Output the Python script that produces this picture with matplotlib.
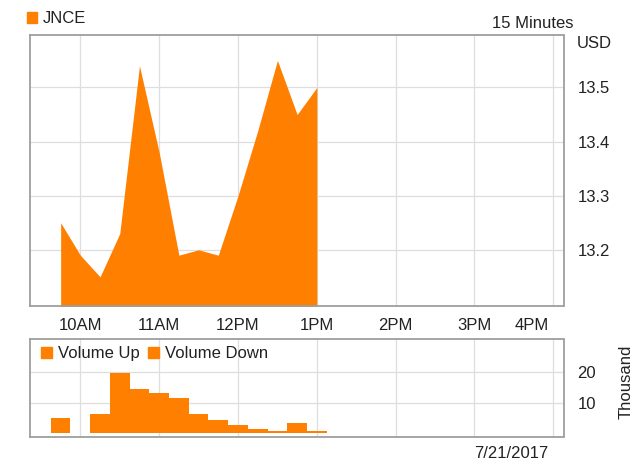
import matplotlib.pyplot as plt
from matplotlib.patches import Patch

plt.rcParams["font.family"] = ["Liberation Sans", "DejaVu Sans"]

# 15 minute bars, 7/21/2017
times = ["9:45", "10:00", "10:15", "10:30", "10:45", "11:00", "11:15",
         "11:30", "11:45", "12:00", "12:15", "12:30", "12:45", "13:00"]
price = [13.25, 13.19, 13.15, 13.23, 13.54, 13.38, 13.19,
         13.20, 13.19, 13.30, 13.42, 13.55, 13.45, 13.50]
volume = [4.9, 0.0, 6.2, 19.4, 14.4, 13.0, 11.4,
          6.2, 4.4, 2.6, 1.5, 0.8, 3.3, 0.9]  # thousand

hour_ticks = [10, 11, 12, 13, 14, 15, 16]
hour_labels = ["10AM", "11AM", "12PM", "1PM", "2PM", "3PM", "4PM"]
price_ticks = [13.2, 13.3, 13.4, 13.5]
volume_ticks = [10, 20]

orange = "#ff7f00"
grid_c = "#dedede"
frame_c = "#9e9e9e"
text_c = "#222222"
fs = 12


def to_hours(t):
    h, m = t.split(":")
    return int(h) + int(m) / 60


x = [to_hours(t) for t in times]

W, H = 639, 461
fig = plt.figure(figsize=(W / 100, H / 100), dpi=100)


def fig_box(left, top, right, bottom):
    return [left / W, 1 - bottom / H, (right - left) / W, (bottom - top) / H]


ax = fig.add_axes(fig_box(29.5, 35, 563.5, 305.5))
axv = fig.add_axes(fig_box(29.5, 338.5, 563.5, 437))

xlim = (9.355, 16.129)

# price area
ax.fill_between(x, price, 13.0, color=orange, linewidth=0, zorder=2)
ax.set_xlim(*xlim)
ax.set_ylim(13.097, 13.597)
ax.set_yticks(price_ticks)
ax.set_yticklabels([f"{v:.1f}" for v in price_ticks])
ax.yaxis.tick_right()

# gridlines on the hours; the 4PM label sits left of its line (minor tick)
ax.set_xticks(hour_ticks)
ax.set_xticklabels(hour_labels[:-1] + [""])
ax.set_xticks([15.73], minor=True)
ax.set_xticklabels(hour_labels[-1:], minor=True)
ax.tick_params(axis="x", which="both", length=0, pad=9, labelsize=fs, labelcolor=text_c)
ax.tick_params(axis="y", length=0, pad=10, labelsize=fs, labelcolor=text_c)
ax.grid(True, which="major", color=grid_c, linewidth=0.9, zorder=0)
ax.set_axisbelow(True)

# volume bars
axv.bar(x, volume, width=0.25, color=orange, linewidth=0, zorder=2)
axv.set_xlim(*xlim)
axv.set_ylim(-1.13, 30.65)
axv.set_xticks(hour_ticks)
axv.set_xticklabels([])
axv.set_yticks(volume_ticks)
axv.yaxis.tick_right()
axv.tick_params(axis="x", length=0)
axv.tick_params(axis="y", length=0, pad=10, labelsize=fs, labelcolor=text_c)
axv.grid(True, color=grid_c, linewidth=0.9, zorder=0)
axv.set_axisbelow(True)

for a in (ax, axv):
    for s in a.spines.values():
        s.set_color(frame_c)
        s.set_linewidth(1.3)

# legends
leg_kw = dict(frameon=False, fontsize=fs, handlelength=0.65, handleheight=0.65,
              handletextpad=0.35, borderpad=0, borderaxespad=0,
              loc="center left", bbox_transform=fig.transFigure,
              labelcolor=text_c)
fig.legend([Patch(color=orange)], ["JNCE"],
           bbox_to_anchor=(26.5 / W, 1 - 18.5 / H), **leg_kw)
axv.legend([Patch(color=orange), Patch(color=orange)], ["Volume Up", "Volume Down"],
           ncol=2, columnspacing=0.5,
           bbox_to_anchor=(41.5 / W, 1 - 353.5 / H), **leg_kw)

fig.text(573 / W, 1 - 23 / H, "15 Minutes", ha="right", va="center",
         fontsize=fs, color=text_c)
fig.text(577 / W, 1 - 43 / H, "USD", ha="left", va="center",
         fontsize=fs, color=text_c)
fig.text(626 / W, 1 - 382 / H, "Thousand", rotation=90, ha="center", va="center",
         fontsize=fs, color=text_c)
fig.text(548 / W, 1 - 453 / H, "7/21/2017", ha="right", va="center",
         fontsize=fs, color=text_c)

fig.savefig("out.png", dpi=100)
